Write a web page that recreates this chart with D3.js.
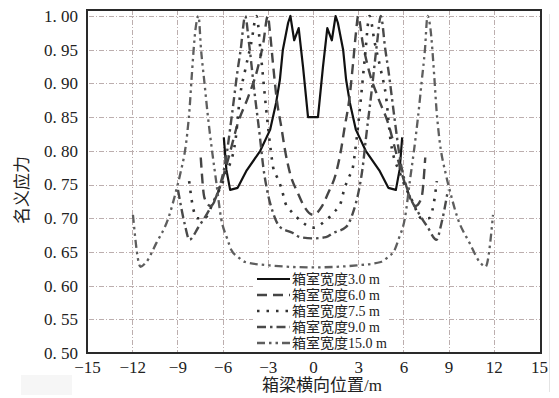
<!DOCTYPE html>
<html>
<head>
<meta charset="utf-8">
<script src="https://cdn.jsdelivr.net/npm/d3@7"></script>
<style>
    body { margin: 0; background: #fff; }
    svg { display: block; }
</style>
</head>
<body>
<svg id="chart" width="559" height="398"></svg>
<script>
/*global d3*/

// tick values
var xTicks = [-15, -12, -9, -6, -3, 0, 3, 6, 9, 12, 15];
var yTicks = [0.50, 0.55, 0.60, 0.65, 0.70, 0.75, 0.80, 0.85, 0.90, 0.95, 1.00];

// 箱室宽度 3.0 m
var x30 = [-5.92, -5.75, -5.5, -5.0, -4.4, -3.5, -2.85, -2.45, -2.2, -2.0, -1.65, -1.5, -1.25, -0.95, -0.66, -0.33,
    0.33, 0.66, 0.95, 1.25, 1.5, 1.65, 2.0, 2.2, 2.45, 2.85, 3.5, 4.4, 5.0, 5.5, 5.75, 5.92];
var s30 = [0.82, 0.772, 0.742, 0.745, 0.771, 0.80, 0.831, 0.871, 0.905, 0.95, 0.99, 1.0, 0.964, 0.982, 0.924, 0.85,
    0.85, 0.924, 0.982, 0.964, 1.0, 0.99, 0.95, 0.905, 0.871, 0.831, 0.80, 0.771, 0.745, 0.742, 0.772, 0.82];

// 箱室宽度 6.0 m
var x60 = [-7.45, -7.2, -6.8, -6.2, -5.6, -5.0, -4.3, -3.7, -3.3, -3.0, -2.85, -2.66, -2.4, -2.1, -1.85, -1.53, -1.0, -0.6, 0,
    0.6, 1.0, 1.53, 1.85, 2.1, 2.4, 2.66, 2.85, 3.0, 3.3, 3.7, 4.3, 5.0, 5.6, 6.2, 6.8, 7.2, 7.45];
var s60 = [0.79, 0.73, 0.718, 0.745, 0.79, 0.84, 0.88, 0.92, 0.96, 1.0, 0.975, 0.93, 0.875, 0.835, 0.80, 0.767, 0.737, 0.718, 0.705,
    0.718, 0.737, 0.767, 0.80, 0.835, 0.875, 0.93, 0.975, 1.0, 0.96, 0.92, 0.88, 0.84, 0.79, 0.745, 0.718, 0.73, 0.79];

// 箱室宽度 7.5 m
var x75 = [-8.22, -8.0, -7.7, -7.2, -6.6, -5.8, -5.15, -4.85, -4.5, -4.1, -3.75, -3.45, -3.1, -2.8, -2.65, -2.39, -2.06, -1.86, -1.4, -0.86, 0,
    0.86, 1.4, 1.86, 2.06, 2.39, 2.65, 2.8, 3.1, 3.45, 3.75, 4.1, 4.5, 4.85, 5.15, 5.8, 6.6, 7.2, 7.7, 8.0, 8.22];
var s75 = [0.755, 0.72, 0.70, 0.70, 0.725, 0.765, 0.815, 0.88, 0.92, 0.96, 1.0, 0.94, 0.86, 0.80, 0.776, 0.761, 0.742, 0.724, 0.709, 0.697, 0.686,
    0.697, 0.709, 0.724, 0.742, 0.761, 0.776, 0.80, 0.86, 0.94, 1.0, 0.96, 0.92, 0.88, 0.815, 0.765, 0.725, 0.70, 0.70, 0.72, 0.755];

// 箱室宽度 9.0 m
var x90 = [-8.96, -8.5, -8.2, -7.6, -7.0, -6.3, -5.8, -5.4, -5.0, -4.8, -4.5, -4.25, -3.9, -3.5, -3.3, -3.05, -2.65, -2.2, -1.33, -0.86, 0,
    0.86, 1.33, 2.2, 2.65, 3.05, 3.3, 3.5, 3.9, 4.25, 4.5, 4.8, 5.0, 5.4, 5.8, 6.3, 7.0, 7.6, 8.2, 8.5, 8.96];
var s90 = [0.742, 0.69, 0.668, 0.687, 0.708, 0.74, 0.785, 0.85, 0.92, 0.95, 1.0, 0.96, 0.89, 0.816, 0.776, 0.742, 0.708, 0.687, 0.678, 0.672, 0.670,
    0.672, 0.678, 0.687, 0.708, 0.742, 0.776, 0.816, 0.89, 0.96, 1.0, 0.95, 0.92, 0.85, 0.785, 0.74, 0.708, 0.687, 0.668, 0.69, 0.742];

// 箱室宽度 15.0 m
var x150 = [-11.95, -11.45, -11.1, -10.4, -9.6, -9.07, -8.85, -8.35, -8.2, -8.05, -7.8, -7.6, -7.43, -7.2, -6.97, -6.7, -6.44, -6.1, -5.7, -5.4, -5.0, -4.5, -2.9, 0,
    2.9, 4.5, 5.0, 5.4, 5.7, 6.1, 6.44, 6.7, 6.97, 7.2, 7.43, 7.6, 7.8, 8.05, 8.2, 8.35, 8.85, 9.07, 9.6, 10.4, 11.1, 11.45, 11.95];
var s150 = [0.705, 0.628, 0.634, 0.663, 0.70, 0.742, 0.762, 0.825, 0.86, 0.91, 0.98, 1.0, 0.95, 0.90, 0.85, 0.80, 0.757, 0.70, 0.67, 0.652, 0.643, 0.635, 0.63, 0.627,
    0.63, 0.635, 0.643, 0.652, 0.67, 0.70, 0.757, 0.80, 0.85, 0.90, 0.95, 1.0, 0.98, 0.91, 0.86, 0.825, 0.762, 0.742, 0.70, 0.663, 0.634, 0.628, 0.705];

var seriesNames = ["箱室宽度3.0 m", "箱室宽度6.0 m", "箱室宽度7.5 m", "箱室宽度9.0 m", "箱室宽度15.0 m"];

var Chart = function (rootId) {
    var series = [
        {name: seriesNames[0], xs: x30, ys: s30, dash: null, color: "#111", width: 2.2, curve: d3.curveLinear},
        {name: seriesNames[1], xs: x60, ys: s60, dash: "10,6", color: "#454545", width: 2.4, curve: d3.curveMonotoneX},
        {name: seriesNames[2], xs: x75, ys: s75, dash: "2.5,7", color: "#333", width: 2.6, curve: d3.curveMonotoneX},
        {name: seriesNames[3], xs: x90, ys: s90, dash: "9,4,2.5,4", color: "#4a4a4a", width: 2.4, curve: d3.curveMonotoneX},
        {name: seriesNames[4], xs: x150, ys: s150, dash: "8,4,2.5,4,2.5,4", color: "#5e5e5e", width: 2.3, curve: d3.curveMonotoneX}
    ];

    var svg = d3.select(rootId);
    var W = 559, H = 398;
    var margin = {left: 87, right: 539, top: 16, bottom: 353, frameTop: 10, frameRight: 541};

    svg.append("rect").attr("width", W).attr("height", H).attr("fill", "#fff");
    // faint patch from the scanned original
    svg.append("rect").attr("x", 21).attr("y", 375).attr("width", 51).attr("height", 20).attr("fill", "#f6f6f6");

    var x = d3.scaleLinear().domain([-15, 15]).range([margin.left, margin.right]);
    var y = d3.scaleLinear().domain([0.5, 1.0]).range([margin.bottom, margin.top]);

    var fontNum = "'Liberation Serif', 'DejaVu Serif', serif";
    var fontCjk = "'Liberation Serif', 'Noto Sans CJK SC', serif";

    // grid
    var grid = svg.append("g").attr("class", "grid");
    grid.selectAll("line.h")
        .data(yTicks.filter(function (d) { return d > 0.5; }))
        .enter().append("line")
        .attr("x1", margin.left + 2).attr("x2", margin.frameRight)
        .attr("y1", function (d) { return Math.round(y(d)) + 0.5; })
        .attr("y2", function (d) { return Math.round(y(d)) + 0.5; })
        .attr("stroke", "#bcaeae").attr("stroke-width", 1)
        .attr("stroke-dasharray", "5,2,1,2");
    grid.selectAll("line.v")
        .data(xTicks.filter(function (d) { return d > -15 && d < 15; }))
        .enter().append("line")
        .attr("y1", margin.frameTop).attr("y2", margin.bottom)
        .attr("x1", function (d) { return Math.round(x(d)) + 0.5; })
        .attr("x2", function (d) { return Math.round(x(d)) + 0.5; })
        .attr("stroke", "#bcaeae").attr("stroke-width", 1)
        .attr("stroke-dasharray", "5,2,1,2");

    // curves
    var plot = svg.append("g");
    series.forEach(function (s) {
        var pts = s.xs.map(function (v, i) { return [v, s.ys[i]]; });
        var line = d3.line()
            .x(function (d) { return x(d[0]); })
            .y(function (d) { return y(d[1]); })
            .curve(s.curve);
        plot.append("path")
            .datum(pts)
            .attr("d", line)
            .attr("fill", "none")
            .attr("stroke", s.color)
            .attr("stroke-width", s.width)
            .attr("stroke-linejoin", "round")
            .attr("stroke-dasharray", s.dash);
    });

    // frame
    svg.append("rect")
        .attr("x", margin.left).attr("y", margin.frameTop)
        .attr("width", margin.frameRight - margin.left).attr("height", margin.bottom - margin.frameTop)
        .attr("fill", "none").attr("stroke", "#2a2a2a").attr("stroke-width", 2);

    // axes
    var xAxis = svg.append("g")
        .attr("transform", "translate(0," + margin.bottom + ")")
        .call(d3.axisBottom(x).tickValues(xTicks).tickSize(0).tickPadding(8)
            .tickFormat(function (d) { return d < 0 ? "\u2212" + Math.abs(d) : d; }));
    xAxis.select(".domain").remove();
    xAxis.selectAll("text").style("font-family", fontNum).style("font-size", "17px").attr("fill", "#222");

    var yAxis = svg.append("g")
        .attr("transform", "translate(" + margin.left + ",0)")
        .call(d3.axisLeft(y).tickValues(yTicks).tickSize(0).tickPadding(9)
            .tickFormat(function (d) { return d3.format(".2f")(d).replace(".", ".\u00a0"); }));
    yAxis.select(".domain").remove();
    yAxis.selectAll("text").style("font-family", fontNum).style("font-size", "17px").attr("fill", "#222");

    // axis titles
    svg.append("text")
        .attr("x", 322).attr("y", 391)
        .attr("text-anchor", "middle")
        .style("font-family", fontCjk).style("font-size", "17px").attr("fill", "#222")
        .text("箱梁横向位置/m");

    svg.append("text")
        .attr("transform", "translate(28,190) rotate(-90)")
        .attr("text-anchor", "middle")
        .style("font-family", fontCjk).style("font-size", "17px").attr("fill", "#222")
        .text("名义应力");

    // legend
    var legend = svg.append("g");
    legend.append("rect")
        .attr("x", 253).attr("y", 270).attr("width", 136).attr("height", 82)
        .attr("fill", "#fff");
    var rowY = [279, 295, 311, 327, 343];
    series.forEach(function (s, i) {
        legend.append("line")
            .attr("x1", 257).attr("x2", 290)
            .attr("y1", rowY[i]).attr("y2", rowY[i])
            .attr("stroke", s.color).attr("stroke-width", s.width)
            .attr("stroke-dasharray", s.dash);
        legend.append("text")
            .attr("x", 292).attr("y", rowY[i] + 5)
            .style("font-family", fontCjk).style("font-size", "14px").attr("fill", "#222")
            .text(s.name);
    });

    // cropped right edge of the scanned original
    svg.append("rect").attr("x", 549).attr("y", 0).attr("width", W - 549).attr("height", H).attr("fill", "#fff");
    svg.append("line").attr("x1", 549.5).attr("x2", 549.5).attr("y1", 14).attr("y2", 392)
        .attr("stroke", "#e4e4e4").attr("stroke-width", 1);
};

new Chart("#chart");
</script>
</body>
</html>
